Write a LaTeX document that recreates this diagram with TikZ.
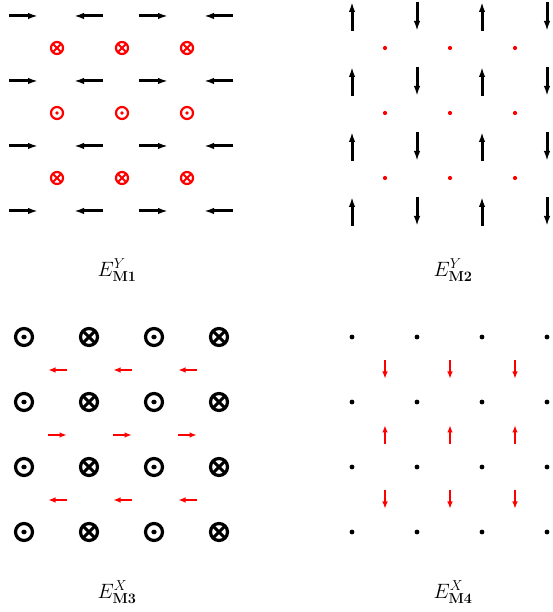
\documentclass[tikz,border=0pt]{standalone}
\usetikzlibrary{arrows.meta}
\begin{document}
\begin{tikzpicture}[x=1pt,y=1pt,
  blkarrow/.style={line width=3pt,-{Latex[length=10pt,width=6.5pt]}},
  redarrow/.style={red,line width=2pt,-{Latex[length=7.5pt,width=5.5pt]}},
  redring/.style={circle,draw=red,line width=2.2pt,minimum size=12pt,inner sep=0pt,outer sep=0pt},
  blkring/.style={circle,draw=black,line width=3.2pt,minimum size=17pt,inner sep=0pt,outer sep=0pt},
  reddot/.style={circle,fill=red,minimum size=4.2pt,inner sep=0pt},
  blkdot/.style={circle,fill=black,minimum size=4.8pt,inner sep=0pt},
  lbl/.style={font=\fontsize{22}{26}\selectfont}]
\useasboundingbox (0,0) rectangle (553,612);
% ---------- Panel 1 ----------
\foreach \i in {0,1,2,3}{
  \foreach \j in {0,1,2,3}{
    \pgfmathsetmacro{\cx}{23.5+65*\i}
    \pgfmathsetmacro{\cy}{612-16-65*\j}
    \pgfmathtruncatemacro{\dir}{mod(\i,2)==0 ? 1 : -1}
    \coordinate (pa-\i-\j-s) at (\cx-\dir*14.5,\cy);
    \coordinate (pa-\i-\j-e) at (\cx+\dir*14.5,\cy);
    \draw[blkarrow] (pa-\i-\j-s) -- (pa-\i-\j-e);
  }
}
\foreach \i in {0,1,2}{
  \foreach \j in {0,1,2}{
    \pgfmathsetmacro{\cx}{57+65*\i}
    \pgfmathsetmacro{\cy}{612-48-65*\j}
    \node[redring] (ra-\i-\j) at (\cx,\cy) {};
    \ifnum\j=1
      \fill[red] (ra-\i-\j.center) circle (1.8pt);
    \else
      \draw[red,line width=2pt] (ra-\i-\j.45) -- (ra-\i-\j.225);
      \draw[red,line width=2pt] (ra-\i-\j.135) -- (ra-\i-\j.315);
    \fi
  }
}
\node[lbl] (la) at (117,342) {$E^{Y}_{\mathbf{M1}}$};
% ---------- Panel 2 ----------
\foreach \i in {0,1,2,3}{
  \foreach \j in {0,1,2,3}{
    \pgfmathsetmacro{\cx}{352+65*\i}
    \pgfmathsetmacro{\cy}{612-16.5-65*\j}
    \pgfmathtruncatemacro{\dir}{mod(\i,2)==0 ? 1 : -1}
    \coordinate (pb-\i-\j-s) at (\cx,\cy-\dir*14.5);
    \coordinate (pb-\i-\j-e) at (\cx,\cy+\dir*14.5);
    \draw[blkarrow] (pb-\i-\j-s) -- (pb-\i-\j-e);
  }
}
\foreach \i in {0,1,2}{
  \foreach \j in {0,1,2}{
    \node[reddot] (rb-\i-\j) at (385+65*\i,612-48-65*\j) {};
  }
}
\node[lbl] (lb) at (453,342) {$E^{Y}_{\mathbf{M2}}$};
% ---------- Panel 3 ----------
\foreach \i in {0,1,2,3}{
  \foreach \j in {0,1,2,3}{
    \node[blkring] (bc-\i-\j) at (24+65*\i,612-337-65*\j) {};
    \ifodd\i
      \draw[line width=3pt] (bc-\i-\j.45) -- (bc-\i-\j.225);
      \draw[line width=3pt] (bc-\i-\j.135) -- (bc-\i-\j.315);
    \else
      \fill (bc-\i-\j.center) ellipse (2.7pt and 2.3pt);
    \fi
  }
}
\foreach \i in {0,1,2}{
  \foreach \j in {0,1,2}{
    \pgfmathsetmacro{\cx}{57.5+65*\i}
    \pgfmathsetmacro{\cy}{612-370-65*\j}
    \pgfmathtruncatemacro{\dir}{\j==1 ? 1 : -1}
    \coordinate (pc-\i-\j-s) at (\cx-\dir*9.5,\cy);
    \coordinate (pc-\i-\j-e) at (\cx+\dir*9.5,\cy);
    \draw[redarrow] (pc-\i-\j-s) -- (pc-\i-\j-e);
  }
}
\node[lbl] (lc) at (117,20) {$E^{X}_{\mathbf{M3}}$};
% ---------- Panel 4 ----------
\foreach \i in {0,1,2,3}{
  \foreach \j in {0,1,2,3}{
    \node[blkdot] (bd-\i-\j) at (352+65*\i,612-337-65*\j) {};
  }
}
\foreach \i in {0,1,2}{
  \foreach \j in {0,1,2}{
    \pgfmathsetmacro{\cx}{385+65*\i}
    \pgfmathsetmacro{\cy}{612-369.5-65*\j}
    \pgfmathtruncatemacro{\dir}{\j==1 ? 1 : -1}
    \coordinate (pd-\i-\j-s) at (\cx,\cy-\dir*9.5);
    \coordinate (pd-\i-\j-e) at (\cx,\cy+\dir*9.5);
    \draw[redarrow] (pd-\i-\j-s) -- (pd-\i-\j-e);
  }
}
\node[lbl] (ld) at (453,20) {$E^{X}_{\mathbf{M4}}$};
\end{tikzpicture}
\end{document}
